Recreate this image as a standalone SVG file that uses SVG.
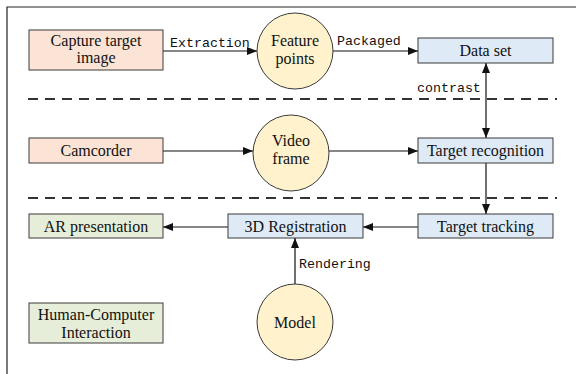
<svg xmlns="http://www.w3.org/2000/svg" width="576" height="374" viewBox="0 0 576 374">
<style>
.box{stroke:#3a3a3a;stroke-width:1}
.pink{fill:#fbe4d5}
.blue{fill:#deeaf6}
.green{fill:#e6eed9}
.circ{fill:#fff2cc;stroke:#3a3a3a;stroke-width:1}
.t{font-family:"Liberation Serif","Times New Roman",serif;font-size:16px;fill:#111;text-anchor:middle}
.m{font-family:"Liberation Mono","Courier New",monospace;font-size:13.3px;fill:#111}
.ln{stroke:#111;stroke-width:1.2;fill:none}
.dash{stroke:#333;stroke-width:1.8;stroke-dasharray:10 7;fill:none}
</style>
<defs>
<marker id="ah" viewBox="0 0 10 8" refX="10" refY="4" markerWidth="10" markerHeight="8" markerUnits="userSpaceOnUse" orient="auto-start-reverse">
<path d="M0,0 L10,4 L0,8 Z" fill="#111"/>
</marker>
</defs>
<rect width="576" height="374" fill="#fff"/>
<g id="frame">
<path d="M7,374 V7 H576" stroke="#222" stroke-width="1.2" fill="none"/>
</g>
<g id="dividers">
<line class="dash" x1="28" y1="99" x2="557" y2="99"/>
<line class="dash" x1="28" y1="198" x2="557" y2="198"/>
</g>
<g id="connectors">
<line class="ln" x1="163" y1="51" x2="257" y2="51" marker-end="url(#ah)"/>
<text class="m" x="170" y="47">Extraction</text>
<line class="ln" x1="333" y1="51" x2="418" y2="51" marker-end="url(#ah)"/>
<text class="m" x="337" y="45">Packaged</text>
<line class="ln" x1="486" y1="63" x2="486" y2="138" marker-start="url(#ah)" marker-end="url(#ah)"/>
<text class="m" x="417" y="92">contrast</text>
<line class="ln" x1="163" y1="151" x2="253" y2="151" marker-end="url(#ah)"/>
<line class="ln" x1="329" y1="151" x2="418" y2="151" marker-end="url(#ah)"/>
<line class="ln" x1="486" y1="163" x2="486" y2="214" marker-end="url(#ah)"/>
<line class="ln" x1="418" y1="227" x2="363" y2="227" marker-end="url(#ah)"/>
<line class="ln" x1="228" y1="227" x2="163" y2="227" marker-end="url(#ah)"/>
<line class="ln" x1="295" y1="284" x2="295" y2="238" marker-end="url(#ah)"/>
<text class="m" x="299" y="268">Rendering</text>
</g>
<g id="capture">
<rect class="box pink" x="29" y="30" width="134" height="40"/>
<text class="t" x="96" y="46">Capture target</text>
<text class="t" x="96" y="63">image</text>
</g>
<g id="feature">
<circle class="circ" cx="295" cy="51" r="38"/>
<text class="t" x="295" y="46">Feature</text>
<text class="t" x="295" y="64">points</text>
</g>
<g id="dataset">
<rect class="box blue" x="418" y="38" width="135" height="25"/>
<text class="t" x="485.5" y="56">Data set</text>
</g>
<g id="camcorder">
<rect class="box pink" x="29" y="138" width="134" height="25"/>
<text class="t" x="96" y="156">Camcorder</text>
</g>
<g id="video">
<circle class="circ" cx="291" cy="153" r="38"/>
<text class="t" x="291" y="146">Video</text>
<text class="t" x="291" y="164">frame</text>
</g>
<g id="recognition">
<rect class="box blue" x="418" y="138" width="135" height="25"/>
<text class="t" x="485.5" y="156">Target recognition</text>
</g>
<g id="tracking">
<rect class="box blue" x="418" y="214" width="135" height="24"/>
<text class="t" x="485.5" y="232">Target tracking</text>
</g>
<g id="registration">
<rect class="box blue" x="228" y="214" width="135" height="24"/>
<text class="t" x="295.5" y="232">3D Registration</text>
</g>
<g id="ar">
<rect class="box green" x="29" y="214" width="134" height="24"/>
<text class="t" x="96" y="232">AR presentation</text>
</g>
<g id="hci">
<rect class="box green" x="29" y="303" width="134" height="40"/>
<text class="t" x="96" y="320">Human-Computer</text>
<text class="t" x="96" y="338">Interaction</text>
</g>
<g id="model">
<circle class="circ" cx="295" cy="322" r="38"/>
<text class="t" x="295" y="328">Model</text>
</g>
</svg>
